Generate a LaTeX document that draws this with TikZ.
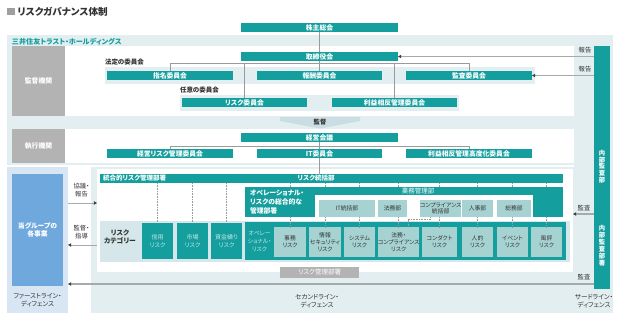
\documentclass[tikz,border=0pt]{standalone}
\usepackage{fontspec}
\setmainfont{Noto Sans CJK JP}[RawFeature=+palt]
\usetikzlibrary{arrows.meta}
\definecolor{tl}{HTML}{149E9E}
\definecolor{lite}{HTML}{E2EEF0}
\definecolor{gry}{HTML}{B3B3B3}
\definecolor{blu}{HTML}{6FA8DC}
\definecolor{lblu}{HTML}{D8E6F4}
\definecolor{paleteal}{HTML}{A6D2D2}
\definecolor{catbg}{HTML}{D5E7EA}
\definecolor{lgray}{HTML}{9A9A9A}
\definecolor{agray}{HTML}{A3ABAB}
\definecolor{txt}{HTML}{333333}
\definecolor{chev}{HTML}{C9DDE2}
\newcommand\myfs[1]{\fontsize{#1}{#1}\selectfont}
\newcommand\bx[7]{\node[#2, anchor=north west, minimum width={(#5-#3)*1pt}, minimum height={(#6-#4)*1pt}] (#1) at (#3,#4) {#7};}
\begin{document}
\begin{tikzpicture}[x=1pt,y=-1pt,
  every node/.style={inner sep=0pt, outer sep=0pt},
  bar/.style={fill=tl, text=white, font=\bfseries\myfs{6.8}},
  gbox/.style={fill=gry, text=white, font=\bfseries\myfs{6.8}},
  dept/.style={fill=paleteal, text=txt, font=\fontsize{5.8}{6.6}\selectfont, align=center},
  rsk/.style={fill=tl, text=white!75!tl, font=\fontsize{6}{8}\selectfont, align=center},
  inr/.style={fill=paleteal, text=txt, font=\fontsize{5.8}{7.2}\selectfont, align=center},
  lbl/.style={text=txt, font=\fontsize{6.5}{8}\selectfont, align=center},
  conn/.style={draw=lgray, line width=0.8pt},
  dotl/.style={draw=lgray, line width=0.5pt, dash pattern=on 0.8pt off 0.8pt},
  arr/.style={draw=agray, line width=1.3pt, -{Triangle[length=3.2pt,width=3.4pt,color=black!75]}},
]
\useasboundingbox (0,0) rectangle (620,318);
\fill[white] (0,0) rectangle (620,318);
% title
\fill[gray!75] (7,8.5) rectangle (14.5,15.5);
\node[anchor=west, text=txt, font=\bfseries\myfs{9.6}] (title) at (17.5,12) {リスクガバナンス体制};
% backgrounds
\fill[lite] (7,35) rectangle (613,165);
\fill[lite] (91,167) rectangle (613,313);
\fill[lite] (574,160) rectangle (613,170);
\fill[white] (65,46) rectangle (574,116);
\fill[white] (65,129) rectangle (574,163);
\fill[lblu] (7,167) rectangle (68,313);
\fill[white] (97,169) rectangle (573,272);
\node[anchor=west, text=tl, font=\bfseries\myfs{7.1}] (hd) at (12,41.5) {三井住友トラスト・ホールディングス};
% side labels
\bx{kantoku}{gbox}{12}{46}{65}{116}{監督機関}
\bx{shikko}{gbox}{12}{129}{65}{163}{執行機関}
% strips
\fill[lite] (105,67) rectangle (535,84);
\fill[lite] (180,95) rectangle (459,111);
\node[anchor=west, text=txt, font=\bfseries\myfs{6.5}] (hotei) at (105,62) {法定の委員会};
\node[anchor=west, text=txt, font=\bfseries\myfs{6.5}] (nini) at (180,90) {任意の委員会};
\coordinate (hb) at (320,63);
\coordinate (hb2) at (320,146);
% bars
\bx{kabu}{bar}{241}{23}{398}{32}{株主総会}
\bx{tori}{bar}{241}{52}{398}{61}{取締役会}
\bx{shimei}{bar}{107}{71}{233}{80}{指名委員会}
\bx{hoshu}{bar}{257}{71}{382}{80}{報酬委員会}
\bx{kansa}{bar}{406}{71}{532}{80}{監査委員会}
\bx{risk}{bar}{182}{98}{307}{107}{リスク委員会}
\bx{rieki}{bar}{332}{98}{457}{107}{利益相反管理委員会}
\bx{keiei}{bar}{241}{133}{398}{142}{経営会議}
\bx{keirisk}{bar}{107}{149}{233}{158}{経営リスク管理委員会}
\bx{it}{bar}{257}{149}{382}{158}{IT委員会}
\bx{riekik}{bar}{406}{149}{532}{158}{利益相反管理高度化委員会}
\draw[conn] (kabu.south) -- (tori.north);
\draw[conn] (tori.south) -- (hoshu.north);
\draw[conn] (shimei.north) -- (shimei.north |- hb) -- (kansa.north |- hb) -- (kansa.north);
\draw[conn] (risk.north) -- (risk.north |- hb);
\draw[conn] (rieki.north) -- (rieki.north |- hb);
\draw[conn] (keiei.south) -- (it.north);
\draw[conn] (keirisk.north) -- (keirisk.north |- hb2) -- (riekik.north |- hb2) -- (riekik.north);
% supervision chevron
\fill[chev] (280,117) -- (360,117) -- (360,121) -- (320,128.5) -- (280,121) -- cycle;
\node[text=txt, font=\bfseries\myfs{6.3}] (kantokul) at (320,122) {監督};
% internal audit column
\bx{ia}{bar}{594}{46}{610}{289}{}
\node[text=white, font=\bfseries\fontsize{6.3}{6.7}\selectfont, align=center] (ial1) at (602,166.5) {内\\部\\監\\査\\部};
\node[text=white, font=\bfseries\fontsize{6.3}{7}\selectfont, align=center] (ial2) at (602,246) {内\\部\\監\\査\\部\\署};
\draw[arr] (ia.west |- tori.east) -- (tori.east);
\draw[arr] (ia.west |- kansa.east) -- (kansa.east);
\node[lbl, font=\myfs{6.3}] (hk1) at (585,50) {報告};
\node[lbl, font=\myfs{6.3}] (hk2) at (585,69) {報告};
% first line
\bx{grp}{fill=blu, text=white, font=\bfseries\fontsize{6.8}{8.5}\selectfont, align=center}{12}{174}{63}{286}{当グループの\\各事業}
\node[lbl] (fld) at (37.5,300.5) {ファーストライン・\\ディフェンス};
% second line
\bx{togo}{bar}{100}{174}{563}{183}{}
\node[anchor=west, text=white, font=\bfseries\myfs{6.5}] (togol) at (103,178.5) {統合的リスク管理部署};
\node[text=white, font=\bfseries\myfs{6.5}] (rtb) at (316,178.5) {リスク統括部};
\draw[conn] (it.south) -- (it.south |- togo.north);
% category row
\fill[catbg] (100,221) rectangle (570,262);
\node[text=txt, font=\bfseries\fontsize{6.8}{8.5}\selectfont, align=center] (catl) at (120,237) {リスク\\カテゴリー};
\bx{shin}{rsk}{142}{223}{173}{259}{信用\\リスク}
\bx{shijo}{rsk}{177}{223}{208}{259}{市場\\リスク}
\bx{shikin}{rsk}{211}{223}{242}{259}{資金繰り\\リスク}
\bx{op}{fill=tl}{245}{222}{566}{260}{}
\node[text=white!75!tl, font=\fontsize{5.8}{8}\selectfont, align=center] (opl) at (259.5,241) {オペレー\\ショナル・\\リスク};
% operational management
\bx{opm}{bar}{245}{187}{563}{217}{}
\fill[white] (315,195) rectangle (533,218);
\node[anchor=north west, text=white, font=\bfseries\fontsize{6.8}{9}\selectfont, align=left] (opml) at (250,189.5) {オペレーショナル・\\リスクの総合的な\\管理部署};
\node[text=white, font=\myfs{6.5}] (gyomu) at (418,191) {業務管理部};
\bx{itb}{dept}{319}{200}{375}{217}{IT統括部}
\bx{hom}{dept}{378}{200}{407}{217}{法務部}
\bx{comp}{dept}{420}{200}{458}{217}{コンプライアンス\\統括部}
\bx{jinji}{dept}{462}{200}{493}{217}{人事部}
\bx{somu}{dept}{497}{200}{531}{217}{総務部}
% dotted links
\draw[dotl] (shin.north |- togo.south) -- (shin.north);
\draw[dotl] (shijo.north |- togo.south) -- (shijo.north);
\draw[dotl] (shikin.north |- togo.south) -- (shikin.north);
\bx{jimu}{inr}{274}{227}{306}{257}{事務\\リスク}
\bx{joho}{inr}{309}{227}{341}{257}{情報\\セキュリティ\\リスク}
\bx{sys}{inr}{344}{227}{375}{257}{システム\\リスク}
\bx{homu}{inr}{378}{227}{418}{257}{法務・\\コンプライアンス\\リスク}
\bx{cond}{inr}{422}{227}{457}{257}{コンダクト\\リスク}
\bx{jinteki}{inr}{462}{227}{493}{257}{人的\\リスク}
\bx{event}{inr}{497}{227}{528}{257}{イベント\\リスク}
\bx{fuhyo}{inr}{531}{227}{562}{257}{風評\\リスク}
\foreach \n in {jimu,joho,sys,homu,cond,jinteki,event,fuhyo}{
  \draw[dotl] (\n.north |- togo.south) -- (\n.north |- opm.north);
}
\draw[dotl] (jimu.north |- opm.south) -- (jimu.north);
\draw[dotl] (fuhyo.north |- opm.south) -- (fuhyo.north);
\draw[dotl] (joho.north |- itb.south) -- (joho.north);
\draw[dotl] (sys.north |- itb.south) -- (sys.north);
\draw[dotl] (homu.north |- hom.south) -- (homu.north);
\draw[dotl] (cond.north |- comp.south) -- (cond.north);
\draw[dotl] (jinteki.north |- jinji.south) -- (jinteki.north);
\draw[dotl] (event.north |- somu.south) -- (event.north);
\coordinate (cb) at (430,219.5);
\draw[dotl] (comp.south -| cb) -- (cb) -- (408,219.5) -- (408,227);
% arrows between lines
\coordinate (fl1) at (68,203);
\coordinate (sl1) at (97,203);
\coordinate (fl2) at (68,245);
\coordinate (sl2) at (97,245);
\draw[arr, line width=1pt] (fl1) -- (sl1);
\draw[arr, line width=1pt] (sl2) -- (fl2);
\node[lbl, font=\fontsize{6.3}{8}\selectfont] (kyogi) at (81.5,190) {協議・\\報告};
\node[lbl, font=\fontsize{6.3}{8}\selectfont] (shido) at (81.5,232.5) {監督・\\指導};
\coordinate (wr) at (573,214);
\draw[arr] (ia.west |- wr) -- (wr);
\node[lbl, font=\myfs{6.3}] (ks1) at (584,208.5) {監査};
\coordinate (fl3) at (68,284);
\draw[arr, line width=2pt] (ia.west |- fl3) -- (fl3);
\node[lbl, font=\myfs{6.3}] (ks2) at (584,277.5) {監査};
\bx{rkb}{gbox, font=\myfs{6.5}}{280}{267}{359}{278}{リスク管理部署}
\node[lbl] (sld) at (317,301.5) {セカンドライン・\\ディフェンス};
\node[lbl] (tld) at (594,301.5) {サードライン・\\ディフェンス};
\end{tikzpicture}
\end{document}
